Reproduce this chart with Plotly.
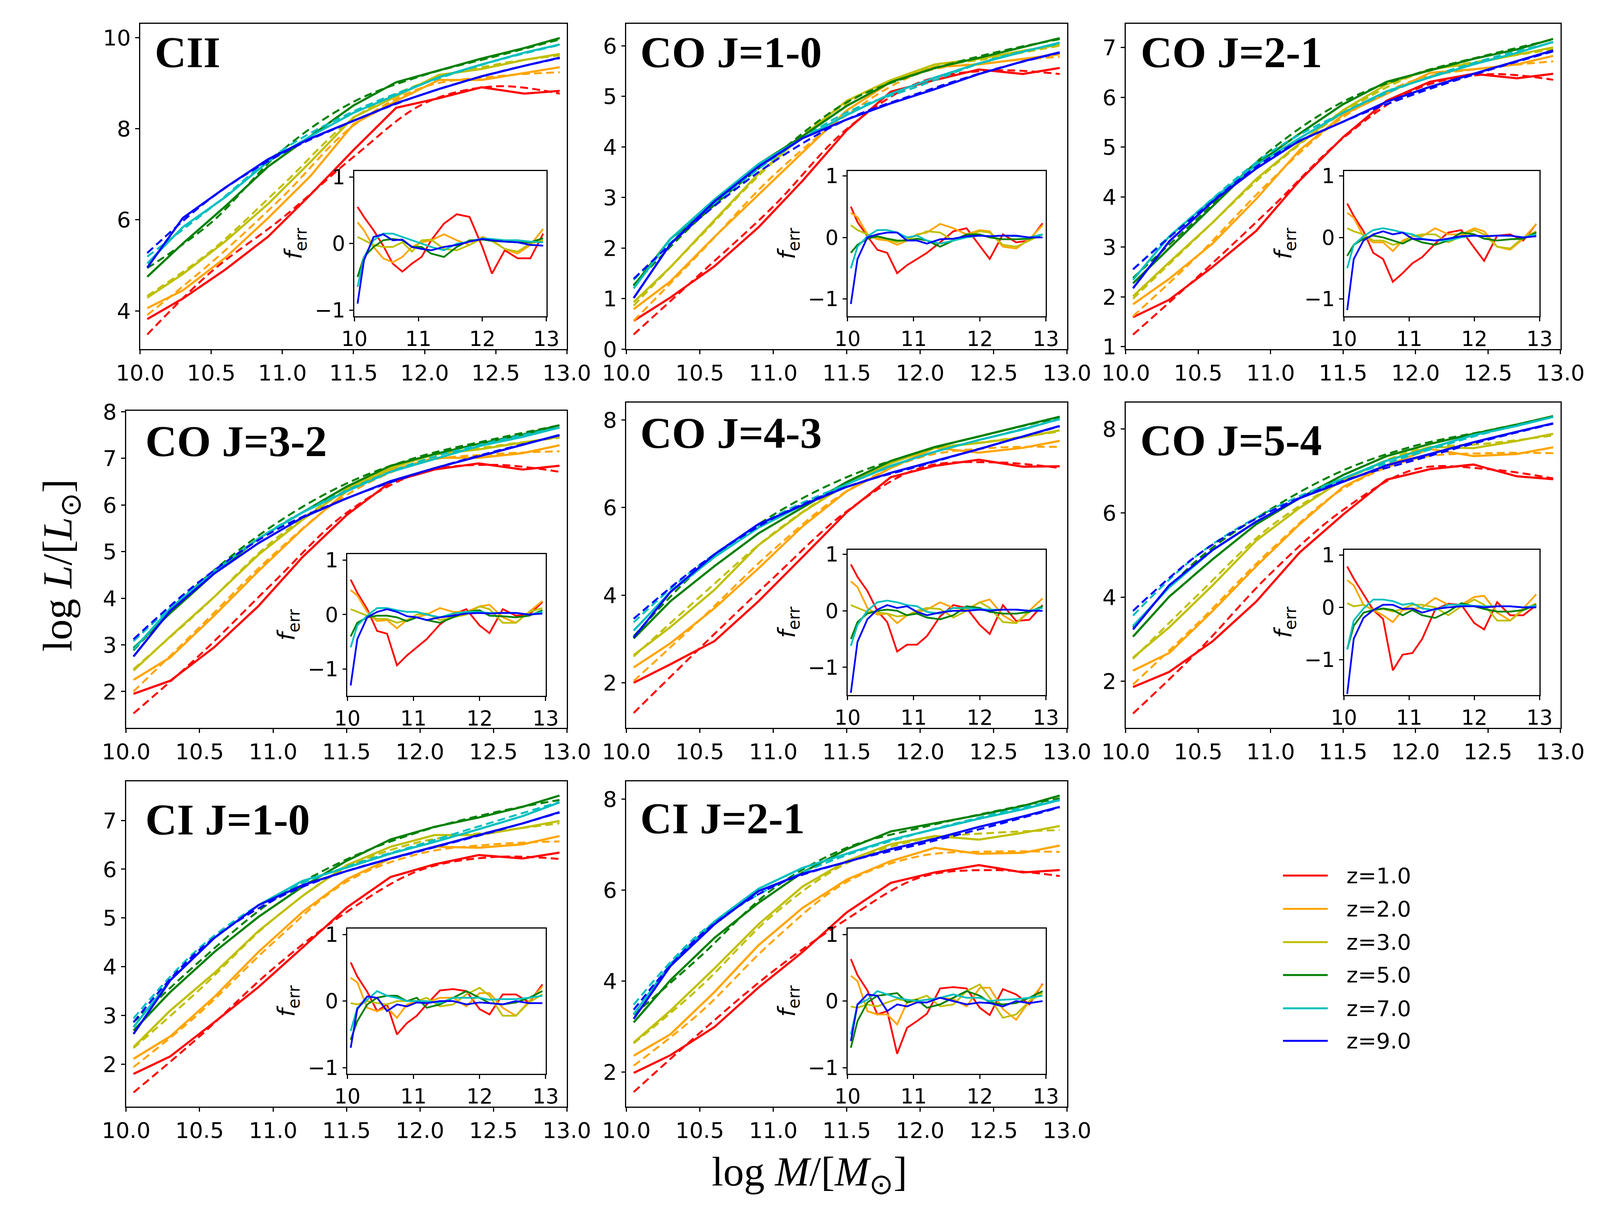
import plotly.graph_objects as go

# mass grids (log M)
mass = [10.05, 10.3, 10.6, 10.9, 11.2, 11.5, 11.8, 12.1, 12.4, 12.7, 12.95]
mass_fit = [10.05, 10.5, 11.0, 11.5, 12.0, 12.5, 12.95]
mass_err = [10.05, 10.15, 10.3, 10.45, 10.6, 10.75, 10.9, 11.05, 11.2, 11.4,
            11.6, 11.8, 12.0, 12.15, 12.35, 12.55, 12.75, 12.95]

z_labels = ["z=1.0", "z=2.0", "z=3.0", "z=5.0", "z=7.0", "z=9.0"]
z_colors = ["#ff0000", "#ffa500", "#bfbf00", "#008000", "#00bfbf", "#0000ff"]

line_names = ["CII", "CO J=1-0", "CO J=2-1", "CO J=3-2", "CO J=4-3", "CO J=5-4",
              "CI J=1-0", "CI J=2-1"]

# ---- CII ----
cii_sim = [
    [3.82, 4.27, 4.91, 5.63, 6.56, 7.53, 8.46, 8.67, 8.91, 8.77, 8.83],
    [4.06, 4.45, 5.17, 6.04, 6.97, 8.10, 8.61, 9.07, 9.07, 9.22, 9.35],
    [4.29, 4.81, 5.53, 6.35, 7.28, 8.25, 8.71, 9.18, 9.31, 9.51, 9.64],
    [4.75, 5.48, 6.30, 7.17, 7.84, 8.51, 9.02, 9.28, 9.54, 9.77, 9.99],
    [5.04, 5.84, 6.50, 7.28, 7.84, 8.35, 8.74, 9.13, 9.41, 9.67, 9.85],
    [4.95, 6.04, 6.71, 7.33, 7.79, 8.17, 8.56, 8.87, 9.15, 9.38, 9.56],
]
cii_fit = [
    [3.48, 4.86, 6.04, 7.38, 8.56, 8.93, 8.77],
    [3.91, 5.06, 6.50, 8.07, 8.92, 9.15, 9.24],
    [4.33, 5.32, 6.76, 8.23, 9.02, 9.41, 9.61],
    [4.94, 5.94, 7.53, 8.59, 9.18, 9.59, 9.96],
    [5.19, 6.27, 7.53, 8.38, 9.00, 9.49, 9.84],
    [5.27, 6.48, 7.46, 8.17, 8.77, 9.23, 9.55],
]
cii_err = [
    [0.55, 0.40, 0.20, -0.03, -0.30, -0.42, -0.30, -0.20, 0.05, 0.30, 0.44, 0.40, -0.05, -0.45, -0.10, -0.22, -0.22, 0.15],
    [0.32, 0.20, -0.05, -0.22, -0.28, -0.20, -0.05, 0.02, 0.05, 0.14, 0.05, -0.02, 0.10, 0.05, -0.08, -0.15, -0.02, 0.22],
    [0.10, 0.05, -0.02, -0.05, -0.05, 0.02, -0.12, 0.05, 0.06, -0.08, -0.10, -0.02, 0.08, 0.04, -0.08, -0.12, 0.00, 0.05],
    [-0.50, -0.20, -0.05, 0.05, 0.07, 0.05, -0.05, -0.05, -0.15, -0.20, -0.05, 0.05, 0.06, 0.04, 0.03, 0.02, 0.02, 0.08],
    [-0.65, -0.20, 0.05, 0.15, 0.15, 0.10, 0.05, 0.00, -0.05, -0.10, 0.00, 0.03, 0.08, 0.07, 0.05, 0.05, 0.03, 0.02],
    [-0.90, -0.25, 0.10, 0.14, 0.05, 0.06, -0.05, -0.08, -0.10, -0.05, -0.02, 0.03, 0.07, 0.05, 0.03, 0.02, -0.02, -0.03],
]

# ---- CO J=1-0 ----
co10_sim = [
    [0.56, 1.02, 1.64, 2.41, 3.33, 4.33, 5.09, 5.32, 5.53, 5.44, 5.56],
    [0.79, 1.34, 2.22, 3.06, 3.89, 4.72, 5.28, 5.58, 5.63, 5.74, 5.83],
    [0.93, 1.62, 2.55, 3.47, 4.21, 4.91, 5.32, 5.63, 5.74, 5.90, 6.02],
    [1.25, 2.18, 2.87, 3.66, 4.21, 4.81, 5.28, 5.56, 5.76, 5.97, 6.15],
    [1.20, 2.18, 2.96, 3.66, 4.17, 4.63, 5.05, 5.37, 5.65, 5.88, 6.06],
    [1.01, 2.08, 2.92, 3.61, 4.17, 4.54, 4.86, 5.14, 5.44, 5.69, 5.87],
]
co10_fit = [
    [0.29, 1.48, 2.82, 4.35, 5.28, 5.51, 5.44],
    [0.56, 1.90, 3.43, 4.63, 5.46, 5.67, 5.78],
    [0.86, 2.22, 3.70, 4.86, 5.51, 5.76, 6.00],
    [1.27, 2.59, 3.80, 4.88, 5.46, 5.86, 6.13],
    [1.37, 2.64, 3.77, 4.68, 5.21, 5.74, 6.04],
    [1.39, 2.59, 3.70, 4.54, 5.07, 5.53, 5.86],
]
co10_err = [
    [0.50, 0.25, 0.02, -0.20, -0.25, -0.58, -0.45, -0.35, -0.25, -0.08, 0.10, 0.15, -0.13, -0.35, 0.05, -0.08, -0.05, 0.23],
    [0.40, 0.33, 0.05, -0.03, -0.05, -0.12, -0.05, 0.05, 0.08, 0.22, 0.15, 0.05, 0.12, 0.10, -0.15, -0.18, -0.03, 0.20],
    [0.20, 0.12, 0.05, 0.00, -0.03, -0.08, -0.02, 0.03, 0.10, 0.08, -0.05, 0.02, 0.10, 0.08, -0.12, -0.15, -0.05, 0.05],
    [-0.25, -0.12, -0.02, 0.02, -0.02, -0.05, -0.05, -0.02, -0.05, -0.15, -0.05, 0.05, 0.05, 0.00, -0.03, -0.03, -0.02, 0.05],
    [-0.50, -0.15, 0.02, 0.12, 0.12, 0.08, 0.00, 0.03, -0.05, -0.10, -0.05, 0.00, 0.03, 0.02, 0.03, 0.02, 0.00, 0.05],
    [-1.08, -0.35, 0.00, 0.05, 0.08, 0.08, -0.05, -0.05, -0.10, -0.03, -0.02, 0.02, 0.03, 0.02, 0.03, 0.03, 0.00, 0.00],
]

# ---- CO J=2-1 ----
co21_sim = [
    [1.59, 1.94, 2.60, 3.32, 4.33, 5.20, 5.93, 6.31, 6.47, 6.38, 6.47],
    [1.85, 2.36, 3.07, 3.96, 4.94, 5.65, 6.07, 6.49, 6.56, 6.66, 6.83],
    [2.01, 2.69, 3.49, 4.36, 5.08, 5.74, 6.26, 6.56, 6.68, 6.86, 7.00],
    [2.27, 2.97, 3.82, 4.66, 5.27, 5.86, 6.31, 6.54, 6.77, 6.96, 7.17],
    [2.34, 3.21, 3.96, 4.64, 5.18, 5.69, 6.12, 6.40, 6.66, 6.89, 7.11],
    [2.17, 3.11, 3.91, 4.57, 5.13, 5.51, 5.91, 6.21, 6.47, 6.73, 6.94],
]
co21_fit = [
    [1.24, 2.41, 3.77, 5.18, 6.16, 6.46, 6.35],
    [1.61, 2.83, 4.33, 5.60, 6.35, 6.59, 6.72],
    [1.96, 3.21, 4.57, 5.69, 6.45, 6.75, 6.96],
    [2.38, 3.58, 4.94, 5.91, 6.47, 6.85, 7.16],
    [2.55, 3.72, 4.90, 5.69, 6.31, 6.77, 7.10],
    [2.55, 3.68, 4.80, 5.51, 6.07, 6.54, 6.92],
]
co21_err = [
    [0.55, 0.35, 0.10, -0.25, -0.35, -0.72, -0.58, -0.42, -0.32, -0.10, 0.08, 0.12, -0.17, -0.38, 0.03, 0.05, -0.05, 0.22],
    [0.40, 0.32, 0.02, -0.08, -0.08, -0.22, -0.05, 0.02, 0.02, 0.15, 0.05, 0.05, 0.15, 0.10, -0.15, -0.20, -0.02, 0.22],
    [0.15, 0.10, 0.05, -0.05, -0.05, -0.12, -0.08, 0.02, 0.05, 0.05, -0.08, 0.02, 0.12, 0.05, -0.15, -0.18, 0.00, 0.10],
    [-0.30, -0.12, -0.02, 0.03, 0.00, -0.05, -0.10, -0.02, -0.08, -0.12, -0.05, 0.08, 0.05, -0.02, -0.05, -0.03, -0.02, 0.08],
    [-0.50, -0.12, 0.02, 0.12, 0.15, 0.12, 0.08, 0.05, -0.02, -0.05, -0.05, 0.00, 0.03, 0.02, 0.03, 0.03, 0.00, 0.05],
    [-1.18, -0.35, -0.05, 0.05, 0.10, 0.05, 0.08, -0.02, -0.03, -0.05, -0.02, 0.02, 0.03, 0.02, 0.03, 0.03, 0.00, 0.02],
]

# ---- CO J=3-2 ----
co32_sim = [
    [1.95, 2.23, 2.95, 3.83, 4.88, 5.78, 6.49, 6.76, 6.89, 6.76, 6.84],
    [2.25, 2.73, 3.63, 4.58, 5.48, 6.29, 6.74, 7.01, 7.01, 7.11, 7.28],
    [2.45, 3.18, 4.03, 4.93, 5.68, 6.34, 6.79, 7.09, 7.19, 7.34, 7.46],
    [2.93, 3.68, 4.53, 5.28, 5.84, 6.39, 6.84, 7.09, 7.31, 7.51, 7.71],
    [2.90, 3.78, 4.58, 5.28, 5.84, 6.29, 6.71, 6.99, 7.26, 7.46, 7.66],
    [2.75, 3.73, 4.53, 5.18, 5.73, 6.14, 6.51, 6.79, 7.04, 7.29, 7.50],
]
co32_fit = [
    [1.53, 2.78, 4.33, 5.83, 6.69, 6.86, 6.71],
    [2.00, 3.38, 4.93, 6.21, 6.91, 7.09, 7.15],
    [2.48, 3.73, 5.23, 6.31, 6.99, 7.26, 7.44],
    [2.88, 4.33, 5.56, 6.46, 7.04, 7.41, 7.71],
    [3.08, 4.33, 5.48, 6.31, 6.94, 7.36, 7.66],
    [3.12, 4.36, 5.43, 6.14, 6.69, 7.14, 7.49],
]
co32_err = [
    [0.64, 0.40, 0.10, -0.30, -0.35, -0.93, -0.75, -0.60, -0.45, -0.18, 0.00, 0.10, -0.20, -0.34, 0.10, -0.02, 0.00, 0.23],
    [0.45, 0.35, 0.05, -0.12, -0.10, -0.25, -0.10, -0.05, 0.00, 0.12, 0.05, 0.05, 0.15, 0.18, -0.05, -0.15, 0.05, 0.25],
    [0.10, 0.05, -0.02, -0.08, -0.08, -0.15, -0.10, 0.00, 0.02, -0.10, -0.05, 0.00, 0.15, 0.10, -0.15, -0.15, 0.05, 0.12],
    [-0.40, -0.15, -0.05, -0.02, -0.02, -0.05, -0.12, -0.05, -0.10, -0.15, -0.05, 0.05, 0.08, -0.02, -0.03, -0.05, -0.02, 0.08],
    [-0.60, -0.20, -0.02, 0.12, 0.12, 0.08, 0.05, 0.05, 0.00, -0.05, 0.02, 0.05, 0.05, 0.03, 0.03, 0.03, 0.00, 0.05],
    [-1.30, -0.45, -0.05, 0.05, 0.10, 0.05, -0.03, -0.05, -0.10, -0.05, -0.02, 0.02, 0.03, 0.02, 0.03, 0.03, 0.00, 0.02],
]

# ---- CO J=4-3 ----
co43_sim = [
    [2.00, 2.42, 2.95, 3.86, 4.87, 5.89, 6.69, 6.95, 7.09, 6.93, 6.94],
    [2.35, 2.90, 3.70, 4.61, 5.57, 6.37, 6.90, 7.36, 7.25, 7.36, 7.52],
    [2.63, 3.27, 4.12, 5.14, 5.89, 6.53, 7.01, 7.36, 7.47, 7.60, 7.76],
    [3.01, 3.86, 4.66, 5.41, 6.00, 6.58, 7.06, 7.38, 7.62, 7.86, 8.07],
    [3.19, 4.07, 4.87, 5.54, 6.05, 6.53, 6.95, 7.27, 7.54, 7.78, 8.02],
    [3.03, 4.07, 4.93, 5.62, 6.05, 6.47, 6.79, 7.06, 7.33, 7.62, 7.86],
]
co43_fit = [
    [1.31, 2.79, 4.39, 5.91, 6.90, 7.03, 6.90],
    [2.04, 3.43, 5.03, 6.37, 7.14, 7.36, 7.38],
    [2.60, 3.96, 5.41, 6.53, 7.27, 7.52, 7.73],
    [3.06, 4.61, 5.83, 6.69, 7.27, 7.70, 8.05],
    [3.38, 4.69, 5.78, 6.53, 7.17, 7.62, 8.01],
    [3.46, 4.69, 5.75, 6.47, 6.95, 7.43, 7.85],
]
co43_err = [
    [0.82, 0.60, 0.35, 0.00, -0.20, -0.72, -0.60, -0.60, -0.45, -0.10, 0.10, 0.05, -0.25, -0.41, 0.10, -0.18, -0.16, 0.10],
    [0.52, 0.42, 0.05, -0.07, -0.05, -0.22, -0.08, -0.03, 0.02, 0.15, 0.05, 0.02, 0.15, 0.20, -0.08, -0.22, 0.00, 0.22],
    [0.10, 0.05, -0.02, -0.03, -0.05, -0.10, -0.08, 0.00, 0.05, 0.03, -0.12, 0.00, 0.15, 0.05, -0.20, -0.22, -0.02, 0.08],
    [-0.50, -0.20, -0.05, 0.00, 0.02, 0.00, -0.08, -0.05, -0.12, -0.15, -0.08, 0.08, 0.05, -0.02, -0.05, -0.05, -0.02, 0.08],
    [-0.62, -0.25, 0.00, 0.15, 0.18, 0.15, 0.10, 0.08, -0.02, -0.05, 0.05, 0.05, 0.03, 0.02, 0.02, 0.02, 0.00, 0.05],
    [-1.45, -0.55, -0.15, 0.02, 0.10, 0.05, 0.08, -0.02, -0.08, -0.03, 0.00, 0.00, 0.02, 0.00, 0.02, 0.02, 0.00, 0.00],
]

# ---- CO J=5-4 ----
co54_sim = [
    [1.86, 2.22, 2.95, 3.89, 5.06, 5.96, 6.79, 7.04, 7.15, 6.87, 6.80],
    [2.25, 2.67, 3.67, 4.73, 5.73, 6.62, 7.13, 7.52, 7.35, 7.40, 7.56],
    [2.56, 3.28, 4.28, 5.34, 6.12, 6.79, 7.24, 7.57, 7.54, 7.71, 7.88],
    [3.06, 4.01, 4.90, 5.73, 6.35, 6.90, 7.35, 7.64, 7.88, 8.10, 8.30],
    [3.31, 4.23, 5.12, 5.79, 6.35, 6.82, 7.24, 7.54, 7.85, 8.07, 8.28],
    [3.23, 4.28, 5.12, 5.79, 6.35, 6.74, 7.13, 7.40, 7.68, 7.93, 8.13],
]
co54_fit = [
    [1.23, 2.72, 4.56, 6.07, 7.04, 7.04, 6.82],
    [1.92, 3.39, 5.12, 6.57, 7.29, 7.42, 7.42],
    [2.53, 4.06, 5.68, 6.76, 7.49, 7.65, 7.84],
    [3.28, 4.90, 6.09, 7.01, 7.60, 7.96, 8.28],
    [3.56, 5.01, 6.07, 6.82, 7.40, 7.91, 8.28],
    [3.67, 5.01, 6.04, 6.76, 7.26, 7.74, 8.12],
]
co54_err = [
    [0.78, 0.55, 0.25, -0.05, -0.22, -1.20, -0.90, -0.87, -0.60, -0.04, 0.07, 0.05, -0.30, -0.42, 0.10, -0.15, -0.15, 0.04],
    [0.52, 0.42, 0.05, -0.05, -0.15, -0.28, -0.05, -0.03, 0.00, 0.18, 0.05, 0.05, 0.20, 0.22, -0.10, -0.25, -0.02, 0.25],
    [0.08, 0.02, 0.05, -0.05, -0.03, -0.08, -0.03, 0.05, 0.05, 0.00, -0.15, 0.02, 0.15, 0.05, -0.25, -0.25, -0.05, 0.08],
    [-0.80, -0.35, -0.10, -0.05, -0.02, -0.05, -0.15, -0.05, -0.15, -0.20, -0.08, 0.08, 0.02, -0.03, -0.08, -0.08, -0.05, 0.05],
    [-0.80, -0.25, -0.02, 0.15, 0.15, 0.12, 0.05, 0.08, -0.02, -0.05, 0.05, 0.05, 0.03, 0.02, 0.02, 0.02, 0.00, 0.03],
    [-1.65, -0.60, -0.20, -0.05, 0.05, 0.05, -0.03, -0.02, -0.10, -0.03, 0.00, 0.02, 0.02, 0.00, 0.02, 0.02, 0.00, 0.00],
]

# ---- CI J=1-0 ----
ci10_sim = [
    [1.80, 2.16, 2.86, 3.58, 4.39, 5.21, 5.84, 6.10, 6.29, 6.22, 6.34],
    [2.11, 2.57, 3.38, 4.30, 5.12, 5.79, 6.22, 6.46, 6.44, 6.51, 6.68],
    [2.35, 3.10, 3.87, 4.73, 5.45, 6.08, 6.46, 6.70, 6.70, 6.85, 6.99],
    [2.69, 3.48, 4.30, 5.02, 5.64, 6.17, 6.61, 6.87, 7.06, 7.28, 7.51],
    [2.76, 3.72, 4.59, 5.26, 5.76, 6.03, 6.32, 6.56, 6.82, 7.09, 7.37],
    [2.62, 3.72, 4.59, 5.26, 5.67, 5.96, 6.22, 6.46, 6.70, 6.94, 7.17],
]
ci10_fit = [
    [1.42, 2.57, 3.96, 5.12, 5.98, 6.25, 6.21],
    [1.94, 3.05, 4.49, 5.74, 6.32, 6.51, 6.57],
    [2.33, 3.53, 4.97, 6.03, 6.56, 6.77, 6.94],
    [2.86, 4.11, 5.36, 6.20, 6.77, 7.16, 7.42],
    [2.94, 4.39, 5.43, 6.05, 6.51, 6.97, 7.38],
    [2.86, 4.35, 5.36, 5.96, 6.37, 6.77, 7.16],
]
ci10_err = [
    [0.58, 0.37, 0.14, -0.15, -0.05, -0.50, -0.33, -0.22, -0.05, 0.16, 0.18, 0.15, -0.12, -0.20, 0.10, 0.10, -0.02, 0.25],
    [0.35, 0.28, -0.10, -0.15, -0.10, -0.25, -0.05, 0.00, -0.02, 0.05, 0.05, -0.08, 0.12, 0.12, -0.10, -0.22, 0.00, 0.22],
    [-0.03, -0.05, 0.00, -0.03, -0.05, 0.00, 0.00, 0.00, 0.05, -0.08, -0.05, 0.10, 0.20, 0.08, -0.22, -0.22, -0.02, 0.10],
    [-0.58, -0.30, -0.05, 0.05, 0.08, 0.08, 0.00, 0.05, -0.10, -0.05, 0.05, 0.15, 0.05, -0.03, -0.05, -0.02, 0.05, 0.15],
    [-0.45, -0.10, 0.02, 0.15, 0.08, 0.05, 0.00, 0.00, 0.00, -0.03, 0.05, 0.05, 0.05, 0.02, 0.03, 0.03, 0.05, 0.08],
    [-0.70, -0.12, 0.07, 0.05, -0.15, -0.05, -0.08, -0.02, -0.03, 0.00, 0.00, -0.05, -0.02, -0.03, -0.05, 0.00, -0.03, -0.03],
]

# ---- CI J=2-1 ----
ci21_sim = [
    [1.98, 2.37, 2.99, 3.86, 4.64, 5.51, 6.16, 6.39, 6.55, 6.39, 6.44],
    [2.36, 2.83, 3.76, 4.79, 5.61, 6.23, 6.64, 6.93, 6.80, 6.82, 6.98],
    [2.65, 3.35, 4.28, 5.25, 6.08, 6.64, 7.01, 7.19, 7.11, 7.26, 7.41],
    [3.09, 4.02, 4.95, 5.72, 6.39, 6.90, 7.29, 7.47, 7.65, 7.85, 8.08],
    [3.27, 4.38, 5.31, 6.03, 6.49, 6.80, 7.11, 7.34, 7.57, 7.78, 7.98],
    [3.17, 4.33, 5.25, 5.98, 6.36, 6.62, 6.90, 7.13, 7.39, 7.62, 7.83],
]
ci21_fit = [
    [1.56, 2.86, 4.22, 5.36, 6.28, 6.44, 6.31],
    [2.14, 3.30, 4.89, 6.18, 6.75, 6.85, 6.84],
    [2.63, 3.86, 5.46, 6.59, 7.11, 7.26, 7.32],
    [3.26, 4.53, 6.03, 6.93, 7.37, 7.73, 8.02],
    [3.48, 5.05, 6.08, 6.77, 7.26, 7.67, 7.99],
    [3.37, 5.00, 6.08, 6.62, 7.01, 7.42, 7.82],
]
ci21_err = [
    [0.63, 0.39, 0.16, -0.20, -0.15, -0.79, -0.40, -0.30, -0.19, 0.19, 0.21, 0.19, -0.10, -0.21, 0.18, 0.10, -0.05, 0.26],
    [0.38, 0.30, -0.15, -0.20, -0.20, -0.35, -0.02, 0.00, 0.02, 0.05, 0.03, -0.08, 0.20, 0.20, -0.12, -0.28, 0.00, 0.25],
    [-0.08, -0.10, -0.05, -0.08, -0.02, 0.03, 0.00, 0.03, 0.08, -0.08, -0.05, 0.15, 0.25, 0.05, -0.25, -0.20, 0.00, 0.12],
    [-0.70, -0.30, -0.02, 0.08, 0.10, 0.12, -0.02, 0.02, -0.10, -0.05, 0.05, 0.15, 0.08, -0.02, -0.05, -0.03, 0.05, 0.15],
    [-0.50, -0.05, 0.02, 0.15, 0.10, 0.05, 0.02, 0.00, 0.02, 0.05, 0.10, 0.05, 0.05, 0.00, 0.02, 0.03, 0.05, 0.08],
    [-0.60, -0.05, 0.10, 0.08, -0.15, -0.05, -0.08, -0.02, -0.02, 0.05, 0.00, -0.05, -0.02, -0.03, -0.08, 0.00, -0.03, 0.00],
]

panels = [
    (cii_sim, cii_fit, cii_err),
    (co10_sim, co10_fit, co10_err),
    (co21_sim, co21_fit, co21_err),
    (co32_sim, co32_fit, co32_err),
    (co43_sim, co43_fit, co43_err),
    (co54_sim, co54_fit, co54_err),
    (ci10_sim, ci10_fit, ci10_err),
    (ci21_sim, ci21_fit, ci21_err),
]

# axis limits / ticks per panel
y_ranges = [[3.16, 10.3], [0.0, 6.43], [0.95, 7.47], [1.22, 8.02],
            [0.97, 8.39], [0.89, 8.62], [1.13, 7.8], [1.24, 8.39]]
y_ticks = [[4, 6, 8, 10], [0, 1, 2, 3, 4, 5, 6], [1, 2, 3, 4, 5, 6, 7],
           [2, 3, 4, 5, 6, 7, 8], [2, 4, 6, 8], [2, 4, 6, 8],
           [2, 3, 4, 5, 6, 7], [2, 4, 6, 8]]
err_ranges = [[-1.09, 1.09], [-1.28, 1.08], [-1.28, 1.08], [-1.49, 1.11],
              [-1.49, 1.08], [-1.67, 1.1], [-1.09, 1.09], [-1.09, 1.09]]

# ---- layout geometry (pixels of the 4141x3109 page) ----
W, H = 4141, 3109
boxes = [(306, 1432, 32, 882), (1589, 2752, 32, 882), (2907, 4054, 32, 882),
         (269, 1432, 1043, 1872), (1589, 2752, 1022, 1872), (2907, 4054, 1022, 1872),
         (269, 1432, 2012, 2862), (1589, 2752, 2012, 2862)]
title_xy = [(342, 106), (1624, 106), (2944, 106), (317, 1123), (1624, 1101),
            (2943, 1121), (317, 2112), (1624, 2109)]


def px(x):
    return x / W


def py(y):
    return 1 - y / H


def ax_name(kind, k):
    return kind if k == 1 else f"{kind}{k}"


tick_font = dict(family="DejaVu Sans", size=56, color="black")
inset_font = dict(family="DejaVu Sans", size=53, color="black")

fig = go.Figure()
layout = {}
shapes = []
annotations = []

for i, (sim, fit, err) in enumerate(panels):
    km, ki = 2 * i + 1, 2 * i + 2
    x0, x1, yt, yb = boxes[i]

    # main curves: simulation (solid) and fit (dashed)
    for j in range(6):
        fig.add_trace(go.Scatter(
            x=mass, y=sim[j], mode="lines", showlegend=False,
            line=dict(color=z_colors[j], width=5.5),
            xaxis=ax_name("x", km), yaxis=ax_name("y", km)))
        fig.add_trace(go.Scatter(
            x=mass_fit, y=fit[j], mode="lines", showlegend=False,
            line=dict(color=z_colors[j], width=5, dash="20px,11px", shape="spline"),
            xaxis=ax_name("x", km), yaxis=ax_name("y", km)))
    # inset: fractional error
    for j in range(6):
        fig.add_trace(go.Scatter(
            x=mass_err, y=err[j], mode="lines", showlegend=False,
            line=dict(color=z_colors[j], width=4.5),
            xaxis=ax_name("x", ki), yaxis=ax_name("y", ki)))

    common = dict(showline=True, mirror=True, linecolor="black", linewidth=2.5,
                  ticks="outside", ticklen=10, tickwidth=2.5, tickcolor="black",
                  showgrid=False, zeroline=False)
    layout[ax_name("xaxis", km)] = dict(
        common, domain=[px(x0), px(x1)], anchor=ax_name("y", km),
        range=[10.0, 13.0], tickvals=[10.0, 10.5, 11.0, 11.5, 12.0, 12.5, 13.0],
        tickformat=".1f", tickfont=tick_font)
    layout[ax_name("yaxis", km)] = dict(
        common, domain=[py(yb), py(yt)], anchor=ax_name("x", km),
        range=y_ranges[i], tickvals=y_ticks[i], tickfont=tick_font)

    ix0 = x0 + 0.502 * (x1 - x0)
    ix1 = x0 + 0.952 * (x1 - x0)
    iyt = yt + 0.452 * (yb - yt)
    iyb = yt + 0.899 * (yb - yt)
    layout[ax_name("xaxis", ki)] = dict(
        common, domain=[px(ix0), px(ix1)], anchor=ax_name("y", ki),
        range=[10.0, 13.0], tickvals=[10, 11, 12, 13], tickfont=inset_font)
    layout[ax_name("yaxis", ki)] = dict(
        common, domain=[py(iyb), py(iyt)], anchor=ax_name("x", ki),
        range=err_ranges[i], tickvals=[-1, 0, 1], tickfont=inset_font,
        title=dict(text="<i>f</i><sub>err</sub>",
                   font=dict(family="DejaVu Sans", size=60, color="black"),
                   standoff=14))
    # white backing so the main curves are hidden under the inset
    shapes.append(dict(type="rect", xref=ax_name("x", ki), yref=ax_name("y", ki),
                       x0=10.0, x1=13.0, y0=err_ranges[i][0], y1=err_ranges[i][1],
                       fillcolor="white", line=dict(width=0), layer="below"))

    tx, ty = title_xy[i]
    annotations.append(dict(
        text=f"<b>{line_names[i]}</b>", x=px(tx), y=py(ty), xref="paper", yref="paper",
        xanchor="left", yanchor="middle", showarrow=False,
        font=dict(family="Liberation Serif", size=112, color="black")))

# manual legend (long line samples like the original)
legend_rows = [2258, 2345, 2432, 2518, 2605, 2690]
for j, lab in enumerate(z_labels):
    yy = py(legend_rows[j])
    shapes.append(dict(type="line", xref="paper", yref="paper",
                       x0=px(3322), x1=px(3440), y0=yy, y1=yy,
                       line=dict(color=z_colors[j], width=5)))
    annotations.append(dict(text=lab, x=px(3487), y=yy, xref="paper", yref="paper",
                            xanchor="left", yanchor="middle", showarrow=False,
                            font=dict(family="DejaVu Sans", size=56, color="black")))

# shared axis titles
annotations.append(dict(
    text="log <i>M</i>/[<i>M</i><sub>⊙</sub>]", x=px(2073), y=py(3040),
    xref="paper", yref="paper", xanchor="center", yanchor="middle", showarrow=False,
    font=dict(family="Liberation Serif", size=106, color="black")))
annotations.append(dict(
    text="log <i>L</i>/[<i>L</i><sub>⊙</sub>]", x=px(96), y=py(1447),
    xref="paper", yref="paper", xanchor="center", yanchor="middle", showarrow=False,
    textangle=-90, font=dict(family="Liberation Serif", size=106, color="black")))

fig.update_layout(**layout)
fig.update_layout(
    width=W, height=H, autosize=False,
    margin=dict(l=0, r=0, t=0, b=0),
    paper_bgcolor="white", plot_bgcolor="white",
    showlegend=False, shapes=shapes, annotations=annotations,
)

fig.write_html("out.html", config={"displayModeBar": False},
               post_script="document.body.style.margin='0px';")
